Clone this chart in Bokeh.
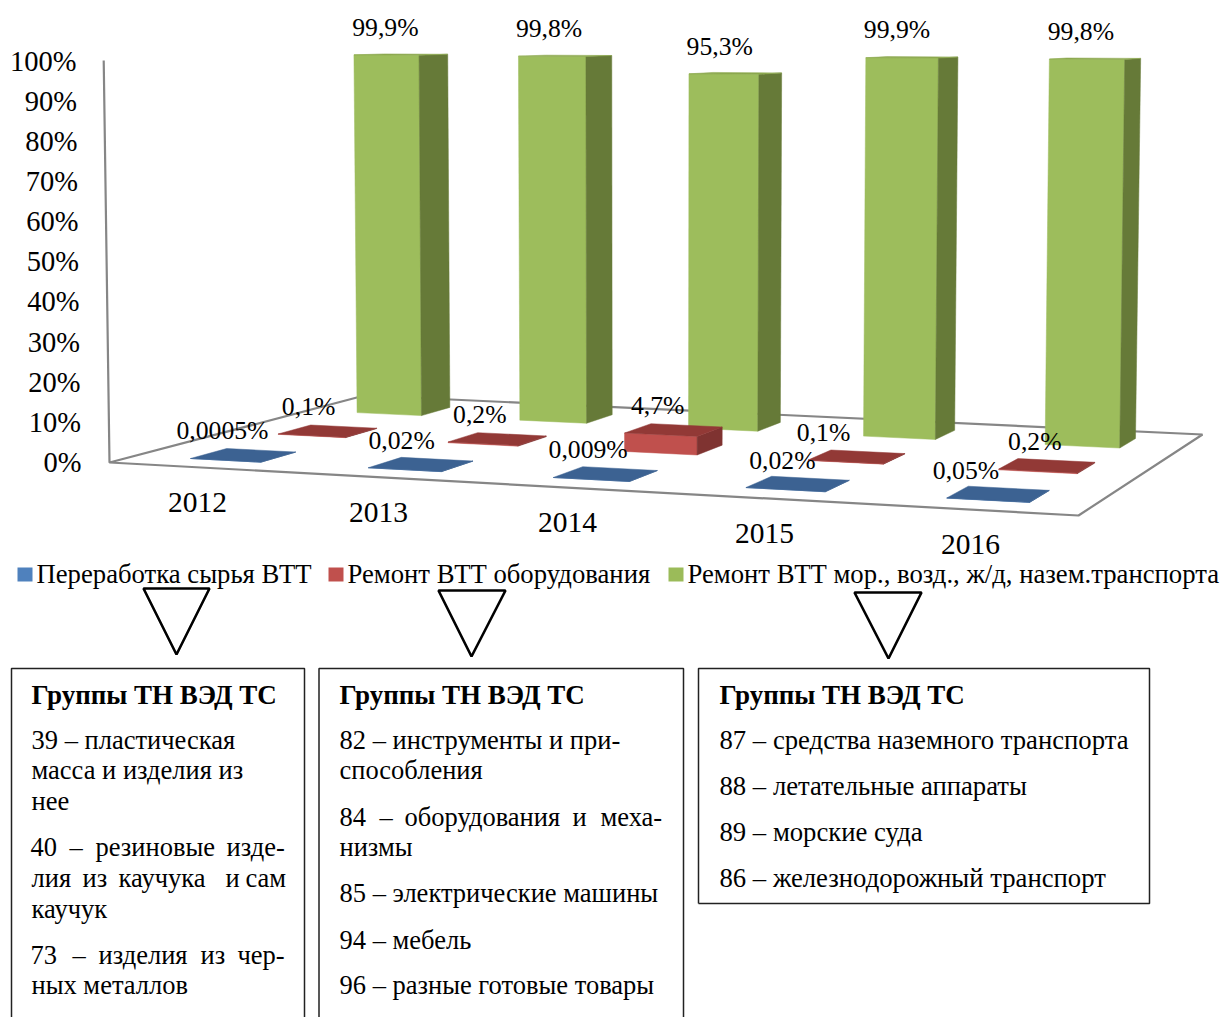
from bokeh.plotting import figure
from bokeh.embed import file_html
from bokeh.resources import INLINE
from bokeh.core.properties import value
from bokeh.models import ColumnDataSource, Range1d

# ---- data ----
years = ["2012", "2013", "2014", "2015", "2016"]
series_names = ["Переработка сырья ВТТ", "Ремонт ВТТ оборудования",
                "Ремонт ВТТ мор., возд., ж/д, назем.транспорта"]
recycling = [0.0005, 0.02, 0.009, 0.02, 0.05]
equipment = [0.1, 0.2, 4.7, 0.1, 0.2]
transport = [99.9, 99.8, 95.3, 99.9, 99.8]
recycling_labels = ["0,0005%", "0,02%", "0,009%", "0,02%", "0,05%"]
equipment_labels = ["0,1%", "0,2%", "4,7%", "0,1%", "0,2%"]
transport_labels = ["99,9%", "99,8%", "95,3%", "99,9%", "99,8%"]
tick_values = [0, 10, 20, 30, 40, 50, 60, 70, 80, 90, 100]

# ---- projection of the 3-D plot area to the page ----
A, B, C, D = (190, 458), (1029, 502), (1135, 438), (386, 404)
FONT = value("Liberation Serif")


def square_to_quad(p0, p1, p2, p3):
    dx1, dy1 = p1[0] - p2[0], p1[1] - p2[1]
    dx2, dy2 = p3[0] - p2[0], p3[1] - p2[1]
    sx = p0[0] - p1[0] + p2[0] - p3[0]
    sy = p0[1] - p1[1] + p2[1] - p3[1]
    det = dx1 * dy2 - dx2 * dy1
    g = (sx * dy2 - dx2 * sy) / det
    h = (dx1 * sy - sx * dy1) / det
    return (p1[0] - p0[0] + g * p1[0], p3[0] - p0[0] + h * p3[0], p0[0],
            p1[1] - p0[1] + g * p1[1], p3[1] - p0[1] + h * p3[1], p0[1], g, h)


M = square_to_quad(A, B, C, D)


def lift(x, y, v):
    """Raise a floor point by value v (percent)."""
    height = 402 + 0.88 * (y - 462)
    lean = 0.0107 * (x - 650)
    return x + lean * v / 100, y - height * v / 100


def project(s, t, v):
    w = M[6] * s + M[7] * t + 1
    x = (M[0] * s + M[1] * t + M[2]) / w
    y = (M[3] * s + M[4] * t + M[5]) / w
    return lift(x, y, v)


BAR = 0.4


def bar_faces(i, j, v):
    s0, s1 = i / 4.4, (i + BAR) / 4.4
    t0, t1 = j / 2.4, (j + BAR) / 2.4
    fbl, fbr, bbr = project(s0, t0, 0), project(s1, t0, 0), project(s1, t1, 0)
    ftl, ftr, btr, btl = project(s0, t0, v), project(s1, t0, v), project(s1, t1, v), project(s0, t1, v)
    front = [fbl, fbr, ftr, ftl]
    side = [fbr, bbr, btr, ftr]
    top = [ftl, ftr, btr, btl]
    return front, side, top


def patch_source(polys):
    return ColumnDataSource(dict(xs=[[q[0] for q in poly] for poly in polys],
                                 ys=[[q[1] for q in poly] for poly in polys]))


p = figure(width=1221, height=1017, output_backend="svg", toolbar_location=None,
           x_range=Range1d(0, 1221), y_range=Range1d(1017, 0),
           min_border=0, outline_line_color=None)
p.xaxis.visible = False
p.yaxis.visible = False
p.grid.visible = False

# ---- floor and value axis ----
GRAY = "#868686"
floor_left, floor_right = (109, 462), (1078, 515)
floor_back_right, floor_back_left = (1202, 434), (364, 395)
axis_top = lift(floor_left[0], floor_left[1], 100)
outline = [axis_top, floor_left, floor_right, floor_back_right, floor_back_left, floor_left]
p.line([q[0] for q in outline], [q[1] for q in outline], line_color=GRAY, line_width=2.2)

# ---- bars, from the back row to the front ----
rows = [(2, transport, "#9DBD5C", "#667A38", "#8CA84F"),
        (1, equipment, "#C0504D", "#7F3331", "#923936"),
        (0, recycling, "#3E6CA5", "#335a8a", "#3C6292")]
for j, vals, front_c, side_c, top_c in rows:
    fronts, sides, tops = [], [], []
    for i, v in enumerate(vals):
        f, s, t = bar_faces(i, j, v)
        fronts.append(f)
        sides.append(s)
        tops.append(t)
    for polys, col in ((fronts, front_c), (sides, side_c), (tops, top_c)):
        p.patches("xs", "ys", source=patch_source(polys), fill_color=col, line_color=col, line_width=0.5)

# ---- data labels ----
label_rows = [(2, transport, transport_labels, [-1, -3, -4, -5, -6], -28),
              (1, equipment, equipment_labels, [-3, -3, -3, -22, -3], -29),
              (0, recycling, recycling_labels, [-3, -3, -3, -3, -22], -29.5)]
for j, vals, labels, dxs, dy in label_rows:
    xs, ys = [], []
    for i, v in enumerate(vals):
        q = project((i + BAR / 2) / 4.4, j / 2.4, v)
        xs.append(q[0] + dxs[i])
        ys.append(q[1] + dy)
    p.text(xs, ys, text=labels, text_font=FONT, text_font_size="25.7px", text_color="black",
           text_align="center", text_baseline="middle")

# ---- value tick labels ----
p.text([81 - 0.05 * v for v in tick_values], [462 - 4.015 * v for v in tick_values],
       text=[f"{v}%" for v in tick_values], text_font=FONT, text_font_size="28.5px",
       text_color="black", text_align="right", text_baseline="middle")

# ---- category labels ----
year_x = [197, 378, 567, 764, 970]
year_y = [502, 512, 522, 533, 544]
p.text(year_x, year_y, text=years, text_font=FONT, text_font_size="29.5px", text_color="black",
       text_align="center", text_baseline="middle")

# ---- legend ----
legend_colors = ["#4F81BD", "#C0504D", "#9BBB59"]
legend_x = [17, 328, 668]
for x, c, name in zip(legend_x, legend_colors, series_names):
    p.quad(left=[x], right=[x + 15], top=[567], bottom=[581], fill_color=c, line_color=None)
    p.text([x + 19], [573.5], text=[name], text_font=FONT, text_font_size="26.7px", text_color="black",
           text_align="left", text_baseline="middle")

# ---- triangles ----
for xs, ys in (([143, 209, 176], [588, 588, 654]),
               ([438, 505, 471], [590, 590, 656]),
               ([854, 921, 888], [592, 592, 658])):
    p.patch(xs, ys, fill_color=None, line_color="black", line_width=2.6)

# ---- text boxes ----
for xs, ys in (([11, 11, 304, 304], [1020, 668, 668, 1020]),
               ([318.5, 318.5, 683, 683], [1020, 668, 668, 1020]),
               ([698, 698, 1149, 1149, 698], [903, 668, 668, 903, 903])):
    p.line(xs, ys, line_color="#222222", line_width=1.5)

for x in (31, 339, 719):
    p.text([x], [694.5], text=["Группы ТН ВЭД ТС"], text_font=FONT, text_font_size="27px",
           text_font_style="bold", text_color="black", text_align="left", text_baseline="middle")

lines = [(31, 739.5, "39 – пластическая"), (31, 769.5, "масса и изделия из"), (31, 800.5, "нее"),
         (31, 908.5, "каучук"), (31, 984.5, "ных металлов"),
         (339, 739.5, "82 – инструменты и при-"), (339, 769.5, "способления"), (339, 846.5, "низмы"),
         (339, 892.5, "85 – электрические машины"), (339, 939.5, "94 – мебель"),
         (339, 984.5, "96 – разные готовые товары")]
for x, y, t in lines:
    p.text([x], [y], text=[t], text_font=FONT, text_font_size="26.5px", text_color="black",
           text_align="left", text_baseline="middle")

lines_wide = [(719, 739.5, "87 – средства наземного транспорта"), (719, 785.5, "88 – летательные аппараты"),
              (719, 831.5, "89 – морские суда"), (719, 877.5, "86 – железнодорожный транспорт")]
for x, y, t in lines_wide:
    p.text([x], [y], text=[t], text_font=FONT, text_font_size="26.7px", text_color="black",
           text_align="left", text_baseline="middle")

# justified lines: words spread to the column width
justified = [(846.5, ["40", "–", "резиновые", "изде-"], [30, 69, 95, 226]),
             (877.5, ["лия", "из", "каучука", "и", "сам"], [31, 82, 118, 225, 245]),
             (954.5, ["73", "–", "изделия", "из", "чер-"], [30, 72, 98, 200, 237]),
             (816.5, ["84", "–", "оборудования", "и", "меха-"], [339, 379, 404, 572, 600])]
for y, words, xs in justified:
    p.text(xs, [y] * len(xs), text=words, text_font=FONT, text_font_size="26.5px", text_color="black",
           text_align="left", text_baseline="middle")

open("out.html", "w").write(file_html(p, INLINE))
